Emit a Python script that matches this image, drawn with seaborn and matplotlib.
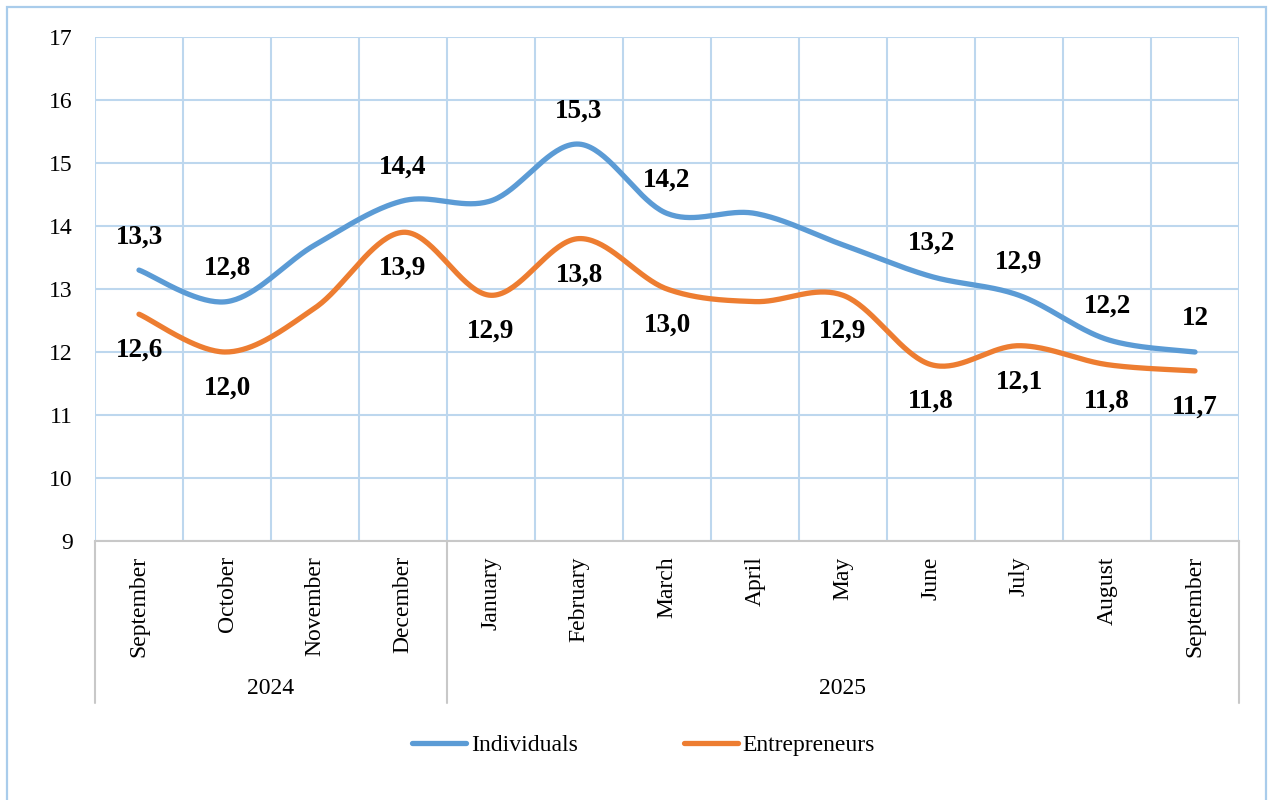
import numpy as np
import pandas as pd
import seaborn as sns
import matplotlib.pyplot as plt
from matplotlib.lines import Line2D
from matplotlib.patches import Rectangle
import matplotlib.transforms as mtransforms

# data
months = ["September", "October", "November", "December", "January", "February",
          "March", "April", "May", "June", "July", "August", "September"]
years = ["2024", "2025"]
year_spans = [(0, 3), (4, 12)]

individuals = [13.3, 12.8, 13.7, 14.4, 14.4, 15.3, 14.2, 14.2, 13.7, 13.2, 12.9, 12.2, 12.0]
entrepreneurs = [12.6, 12.0, 12.7, 13.9, 12.9, 13.8, 13.0, 12.8, 12.9, 11.8, 12.1, 11.8, 11.7]

ind_labels = ["13,3", "12,8", None, "14,4", None, "15,3", "14,2", None, None, "13,2", "12,9", "12,2", "12"]
ent_labels = ["12,6", "12,0", None, "13,9", "12,9", "13,8", "13,0", None, "12,9", "11,8", "12,1", "11,8", "11,7"]

BLUE = "#5B9BD5"
ORANGE = "#ED7D31"
GRID = "#BDD7EE"


def smooth(y, n=40):
    # excel-like smoothing (catmull-rom bezier)
    x = np.arange(len(y), dtype=float)
    pts = np.column_stack([x, np.asarray(y, dtype=float)])
    ext = np.vstack([pts[0], pts, pts[-1]])
    out = []
    t = np.linspace(0, 1, n)[:, None]
    for i in range(len(pts) - 1):
        p0, p1, p2, p3 = ext[i], ext[i + 1], ext[i + 2], ext[i + 3]
        c1 = p1 + (p2 - p0) / 6
        c2 = p2 - (p3 - p1) / 6
        seg = ((1 - t) ** 3) * p1 + 3 * ((1 - t) ** 2) * t * c1 + 3 * (1 - t) * t ** 2 * c2 + t ** 3 * p2
        out.append(seg if i == 0 else seg[1:])
    return np.vstack(out)


frames = []
for name, vals in [("Individuals", individuals), ("Entrepreneurs", entrepreneurs)]:
    s = smooth(vals)
    frames.append(pd.DataFrame({"x": s[:, 0], "y": s[:, 1], "series": name,
                                "order": np.arange(len(s))}))
df = pd.concat(frames, ignore_index=True)

sns.set_theme(style="white")
plt.rcParams["font.family"] = ["Liberation Serif", "DejaVu Serif"]
plt.rcParams["text.color"] = "black"

fig = plt.figure(figsize=(12.69, 8), dpi=100)
ax = fig.add_axes([95 / 1269, 1 - 541 / 800, (1239 - 95) / 1269, 504 / 800])

sns.lineplot(data=df, x="x", y="y", hue="series", units="series", estimator=None,
             sort=False, palette={"Individuals": BLUE, "Entrepreneurs": ORANGE},
             linewidth=3.8, legend=False, ax=ax, solid_capstyle="round")

ax.set_xlim(-0.5, len(months) - 0.5)
ax.set_ylim(9, 17)
ax.set_yticks(range(9, 18))
ax.set_xticks(range(len(months)))
ax.set_xticklabels(months, rotation=90, va="top", ha="center")
ax.set_xticks(np.arange(-0.5, len(months), 1), minor=True)
ax.tick_params(axis="x", which="both", length=0, pad=11, labelsize=17, colors="black")
ax.tick_params(axis="y", length=0, pad=16, labelsize=17, colors="black")
ax.grid(False)
ax.grid(True, axis="y", which="major", color=GRID, linewidth=1.5)
ax.grid(True, axis="x", which="minor", color=GRID, linewidth=1.5)
ax.set_xlabel("")
ax.set_ylabel("")
for side in ["top", "right", "left"]:
    ax.spines[side].set_visible(False)
ax.spines["bottom"].set_color("#C8C8C8")
ax.spines["bottom"].set_linewidth(1.5)

# data labels
for i, lab in enumerate(ind_labels):
    if lab:
        ax.annotate(lab, (i, individuals[i]), xytext=(0, 24), textcoords="offset points",
                    ha="center", va="center", fontsize=19.5, fontweight="bold", color="black")
for i, lab in enumerate(ent_labels):
    if lab:
        ax.annotate(lab, (i, entrepreneurs[i]), xytext=(0, -26), textcoords="offset points",
                    ha="center", va="center", fontsize=19.5, fontweight="bold", color="black")

# year level of the category axis
trans = mtransforms.blended_transform_factory(ax.transData, ax.transAxes)
for (a, b), yr in zip(year_spans, years):
    ax.text((a + b) / 2, -0.292, yr, transform=trans, ha="center", va="center", fontsize=17)
for xv in [-0.5, 3.5, len(months) - 0.5]:
    ax.plot([xv, xv], [0, -0.322], transform=trans, color="#C8C8C8", linewidth=1.5,
            clip_on=False)

handles = [Line2D([0], [0], color=BLUE, lw=3.8, solid_capstyle="round"),
           Line2D([0], [0], color=ORANGE, lw=3.8, solid_capstyle="round")]
fig.legend(handles, ["Individuals", "Entrepreneurs"], loc="center", ncol=2,
           bbox_to_anchor=(0.507, 1 - 745 / 800), frameon=False, fontsize=17,
           handlelength=2.3, handletextpad=0.2, columnspacing=4.5)

# chart border
fig.patches.append(Rectangle((7 / 1269, -0.02), 1259 / 1269, 1 - 7 / 800 + 0.02,
                             transform=fig.transFigure, fill=False,
                             edgecolor="#A9CCEB", linewidth=1.6))

fig.savefig("out.png", dpi=100)
